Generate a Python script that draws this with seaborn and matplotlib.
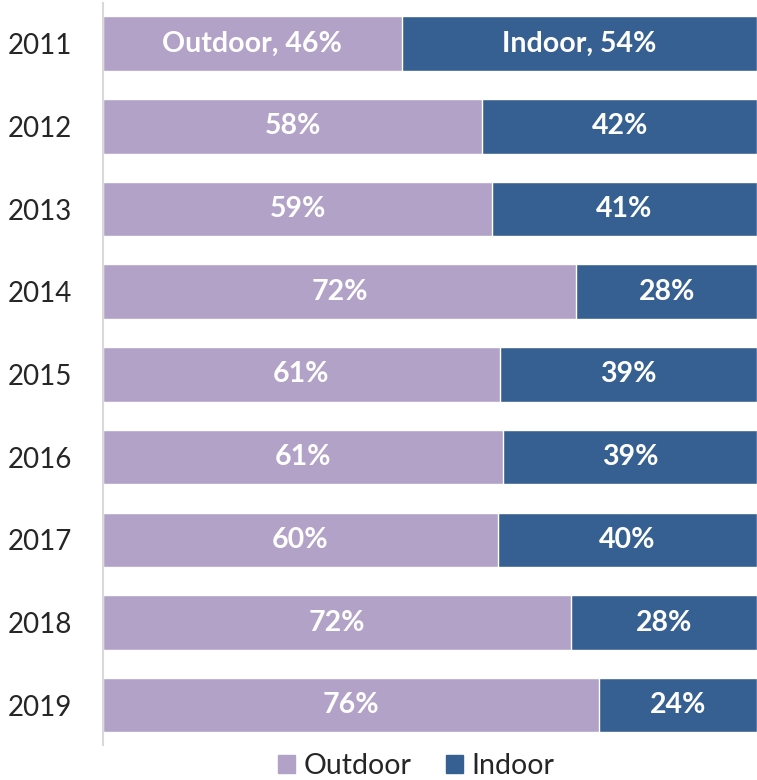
import pandas as pd
import seaborn as sns
import matplotlib.pyplot as plt
from matplotlib.patches import Patch

# ----------------- Data -----------------
years = ["2011", "2012", "2013", "2014", "2015", "2016", "2017", "2018", "2019"]
outdoor = [45.7, 58.0, 59.5, 72.4, 60.7, 61.2, 60.4, 71.5, 75.9]
indoor = [54.3, 42.0, 40.5, 27.6, 39.3, 38.8, 39.6, 28.5, 24.1]
outdoor_labels = ["Outdoor, 46%", "58%", "59%", "72%", "61%", "61%", "60%", "72%", "76%"]
indoor_labels = ["Indoor, 54%", "42%", "41%", "28%", "39%", "39%", "40%", "28%", "24%"]

OUT_COLOR = "#B3A2C7"
IN_COLOR = "#376092"

df = pd.DataFrame({"year": years, "outdoor": outdoor, "indoor": indoor})
df["total"] = df["outdoor"] + df["indoor"]

sns.set_style("white")
plt.rcParams["font.family"] = ["Lato", "DejaVu Sans"]

fig = plt.figure(figsize=(7.57, 7.8), dpi=100)
ax = fig.add_axes([0.136, 0.045, 0.864, 0.951])

# stacked bars: full length in indoor colour, outdoor share drawn on top
sns.barplot(data=df, x="total", y="year", color=IN_COLOR, width=0.66,
            saturation=1, ax=ax)
sns.barplot(data=df, x="outdoor", y="year", color=OUT_COLOR, width=0.66,
            saturation=1, ax=ax)

for i, row in df.iterrows():
    ax.text(row["outdoor"] / 2, i, outdoor_labels[i], ha="center", va="center",
            color="white", fontsize=20.5, fontweight="bold")
    ax.text(row["outdoor"] + row["indoor"] / 2, i, indoor_labels[i],
            ha="center", va="center", color="white", fontsize=20.5,
            fontweight="bold")

ax.set_xlim(0, 100)
ax.set_ylim(8.48, -0.49)
ax.set_xlabel("")
ax.set_ylabel("")
ax.set_xticks([])
ax.tick_params(axis="y", labelsize=20, length=0, pad=22)

for side in ["top", "right", "bottom"]:
    ax.spines[side].set_visible(False)
ax.spines["left"].set_color("#D9D9D9")
ax.spines["left"].set_linewidth(1.5)

handles = [Patch(color=OUT_COLOR, label="Outdoor"),
           Patch(color=IN_COLOR, label="Indoor")]
fig.legend(handles=handles, loc="center", bbox_to_anchor=(0.55, 0.018),
           ncol=2, frameon=False, fontsize=20.5, handlelength=0.6,
           handleheight=0.6, handletextpad=0.3, columnspacing=1.2,
           borderpad=0)

fig.savefig("out.png", dpi=100)
